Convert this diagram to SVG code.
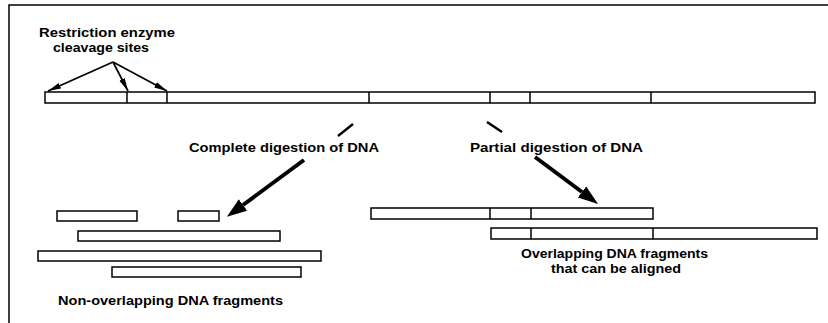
<svg xmlns="http://www.w3.org/2000/svg" width="828" height="323" viewBox="0 0 828 323">
<style>
.seg{fill:#fff;stroke:#000;stroke-width:1.5}
.div{stroke:#000;stroke-width:1.5}
.lbl{font-family:"Liberation Sans",Arial,sans-serif;font-weight:bold;fill:#000}
.thin{stroke:#000;stroke-width:1.7;fill:none}
.thick{stroke:#000;stroke-width:4;fill:none}
.frame{stroke:#000;stroke-width:1.5;fill:none}
.dash{stroke:#000;stroke-width:2.5;fill:none}
</style>
<defs>
<marker id="sm" markerUnits="userSpaceOnUse" markerWidth="14" markerHeight="8" refX="13" refY="3.5" orient="auto"><path d="M0,0.5 L13,3.5 L0,6.5 z" fill="#000"/></marker>
<marker id="lg" markerUnits="userSpaceOnUse" markerWidth="21" markerHeight="15" refX="0" refY="7" orient="auto"><path d="M0,0 L20,7 L0,14 z" fill="#000"/></marker>
</defs>
<rect width="828" height="323" fill="#fff"/>
<path class="frame" d="M9,323 L9,5 L828,5"/>

<g id="label-sites">
<text class="lbl" font-size="12" x="39" y="37" textLength="136" lengthAdjust="spacingAndGlyphs">Restriction enzyme</text>
<text class="lbl" font-size="12" x="53" y="52" textLength="96" lengthAdjust="spacingAndGlyphs">cleavage sites</text>
</g>

<g id="dna-full">
<rect class="seg" x="45" y="92" width="770" height="11"/>
<line class="div" x1="127" y1="92" x2="127" y2="103"/>
<line class="div" x1="167" y1="92" x2="167" y2="103"/>
<line class="div" x1="369" y1="92" x2="369" y2="103"/>
<line class="div" x1="490" y1="92" x2="490" y2="103"/>
<line class="div" x1="530" y1="92" x2="530" y2="103"/>
<line class="div" x1="651" y1="92" x2="651" y2="103"/>
</g>

<g id="label-complete">
<text class="lbl" font-size="13" x="189" y="152" textLength="190" lengthAdjust="spacingAndGlyphs">Complete digestion of DNA</text>
</g>
<g id="label-partial">
<text class="lbl" font-size="13" x="470" y="152" textLength="173" lengthAdjust="spacingAndGlyphs">Partial digestion of DNA</text>
</g>

<g id="fragments-complete">
<rect class="seg" x="57" y="211" width="80" height="10"/>
<rect class="seg" x="178" y="211" width="41" height="10"/>
<rect class="seg" x="78" y="231" width="202" height="10"/>
<rect class="seg" x="38" y="251" width="283" height="10"/>
<rect class="seg" x="112" y="267" width="189" height="10"/>
</g>
<g id="label-nonoverlap">
<text class="lbl" font-size="12" x="58" y="305" textLength="225" lengthAdjust="spacingAndGlyphs">Non-overlapping DNA fragments</text>
</g>

<g id="fragments-partial">
<rect class="seg" x="371" y="208" width="282" height="11"/>
<line class="div" x1="490" y1="208" x2="490" y2="219"/>
<line class="div" x1="531" y1="208" x2="531" y2="219"/>
<rect class="seg" x="491" y="228" width="326" height="11"/>
<line class="div" x1="531" y1="228" x2="531" y2="239"/>
<line class="div" x1="653" y1="228" x2="653" y2="239"/>
</g>
<g id="label-overlap">
<text class="lbl" font-size="12" x="521" y="258" textLength="187" lengthAdjust="spacingAndGlyphs">Overlapping DNA fragments</text>
<text class="lbl" font-size="12" x="551" y="273" textLength="130" lengthAdjust="spacingAndGlyphs">that can be aligned</text>
</g>

<g id="connectors">
<line class="thin" x1="113" y1="62" x2="48" y2="91" marker-end="url(#sm)"/>
<line class="thin" x1="113" y1="62" x2="128" y2="91" marker-end="url(#sm)"/>
<line class="thin" x1="113" y1="62" x2="167" y2="91" marker-end="url(#sm)"/>
<line class="dash" x1="338" y1="136" x2="353" y2="124"/>
<line class="dash" x1="487" y1="122" x2="502" y2="132"/>
<line class="thick" x1="304" y1="160" x2="243" y2="205" marker-end="url(#lg)"/>
<line class="thick" x1="535" y1="157" x2="582" y2="192" marker-end="url(#lg)"/>
</g>
</svg>
